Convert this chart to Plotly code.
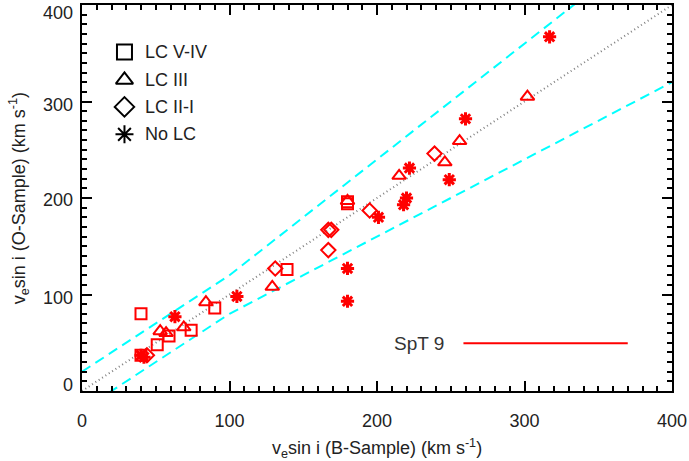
import plotly.graph_objects as go

# ---- data ----
lc54_x = [40, 40, 51, 59, 74, 90, 139, 180, 180]
lc54_y = [80, 37, 48, 57, 63, 86, 126, 196, 194]

lc3_x = [53, 57, 69, 84, 129, 180, 215, 246, 256, 302]
lc3_y = [62, 60, 66, 92, 108, 197, 223, 237, 259, 305]

lc21_x = [44, 131, 167, 167, 169, 195, 239]
lc21_y = [37, 127, 146, 167, 167, 187, 246]

nolc_x = [40, 42, 63, 105, 180, 180, 201, 218, 220, 222, 249, 260, 317]
nolc_y = [37, 35, 77, 98, 127, 93, 180, 193, 200, 231, 219, 282, 367]

one_x = [0, 400]
one_y = [0, 400]
env_x = [0, 100, 400]
env_up = [20, 120, 480]
env_lo = [-20, 80, 320]

y_ticks = [0, 100, 200, 300, 400]
y_tick_text = ["0", "100", "200", "300", "400"]

legend_labels = ["LC V-IV", "LC III", "LC II-I", "No LC"]
legend_symbols = ["square-open", "triangle-up-open", "diamond-open", "asterisk-open"]
legend_ypos = [0.878, 0.806, 0.736, 0.665]

spt_x = [258.6, 370]
spt_y = [49.5, 49.5]

FONT = "Liberation Sans, Arial, Helvetica, sans-serif"
RED = "#ff0000"
TXT = "#222222"

fig = go.Figure()

fig.add_trace(go.Scatter(x=env_x, y=env_up, mode="lines",
                         line=dict(color="#00ffff", width=2, dash="10px,6px"),
                         showlegend=False, hoverinfo="skip"))
fig.add_trace(go.Scatter(x=env_x, y=env_lo, mode="lines",
                         line=dict(color="#00ffff", width=2, dash="10px,6px"),
                         showlegend=False, hoverinfo="skip"))
fig.add_trace(go.Scatter(x=one_x, y=one_y, mode="lines",
                         line=dict(color="#808080", width=2, dash="1px,3px"),
                         showlegend=False, hoverinfo="skip"))

def pts(x, y, sym, size, lw):
    fig.add_trace(go.Scatter(x=x, y=y, mode="markers", showlegend=False,
                             marker=dict(symbol=sym, size=size, color=RED,
                                         line=dict(color=RED, width=lw))))

pts(lc54_x, lc54_y, "square-open", 11, 2)
pts(lc3_x, lc3_y, "triangle-up-open", 12, 2)
pts(lc21_x, lc21_y, "diamond-open", 11, 2)
pts(nolc_x, nolc_y, "asterisk-open", 11, 3)

# SpT 9 bar
fig.add_trace(go.Scatter(x=spt_x, y=spt_y, mode="lines",
                         line=dict(color=RED, width=2), showlegend=False))
fig.add_annotation(x=246.6, y=49.5, xref="x", yref="y", text="SpT 9",
                   showarrow=False, xanchor="right", yanchor="middle",
                   font=dict(family=FONT, size=19, color="#333333"))

# manual legend on overlay axes
fig.add_trace(go.Scatter(x=[0.072] * 4, y=legend_ypos, mode="markers",
                         xaxis="x2", yaxis="y2", showlegend=False,
                         marker=dict(symbol=legend_symbols, size=15, color="black",
                                     line=dict(color="black", width=2))))
for lab, yy in zip(legend_labels, legend_ypos):
    fig.add_annotation(x=0.103, y=yy, xref="x2", yref="y2", text=lab,
                       showarrow=False, xanchor="left", yanchor="middle",
                       font=dict(family=FONT, size=18, color=TXT))

# y tick labels (IDL style: end labels kept inside the frame height)
y_shifts = [6, -3, -2, -3, -8]
for v, t, s in zip(y_ticks, y_tick_text, y_shifts):
    fig.add_annotation(x=0, y=v, xref="paper", yref="y", text=t, showarrow=False,
                       xanchor="right", yanchor="middle", xshift=-7, yshift=s,
                       font=dict(family=FONT, size=18, color=TXT))

# y axis title
fig.add_annotation(x=-0.108, y=0.5, xref="paper", yref="paper", textangle=-90,
                   text="v<sub>e</sub>sin i (O-Sample) (km s<sup>-1</sup>)",
                   showarrow=False, xanchor="center", yanchor="middle",
                   font=dict(family=FONT, size=18, color=TXT))

axis_common = dict(showline=True, linecolor="black", linewidth=2, mirror="ticks",
                   ticks="inside", ticklen=10, tickwidth=2, tickcolor="black",
                   showgrid=False, zeroline=False, automargin=False,
                   ticklabeloverflow="allow",
                   tickfont=dict(family=FONT, size=18, color=TXT),
                   minor=dict(ticks="inside", ticklen=5, tickwidth=2,
                              tickcolor="black", dtick=10, showgrid=False))

fig.update_layout(
    width=689, height=461,
    margin=dict(l=82, r=17, t=5, b=70),
    paper_bgcolor="white", plot_bgcolor="white",
    xaxis=dict(range=[0, 400], dtick=100, tick0=0, ticklabelstandoff=12,
               title=dict(text="v<sub>e</sub>sin i (B-Sample) (km s<sup>-1</sup>)",
                          font=dict(family=FONT, size=18, color=TXT)),
               **axis_common),
    yaxis=dict(range=[0, 400], tickvals=y_ticks, showticklabels=False,
               **axis_common),
    xaxis2=dict(range=[0, 1], overlaying="x", visible=False),
    yaxis2=dict(range=[0, 1], overlaying="y", visible=False),
)

fig.write_html("out.html", config={"displayModeBar": False},
               post_script="document.body.style.margin='0';document.body.style.padding='0';")
